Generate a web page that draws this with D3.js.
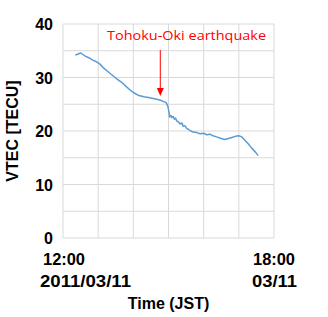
<!DOCTYPE html>
<html><head><meta charset="utf-8">
<script src="https://cdn.jsdelivr.net/npm/d3@7"></script>
<style>body{margin:0;background:#fff}svg{display:block}</style>
</head><body>
<svg id="c" width="328" height="317"></svg>
<script>
const times = ["12:21","12:26","12:30","12:34","12:38","12:44","12:50","12:56","13:03","13:10","13:20","13:30","13:40","13:48","13:54","14:00","14:08","14:18","14:28","14:38","14:45","14:52","14:56","14:59","15:01","15:02","15:04","15:06","15:08","15:10","15:12","15:14","15:17","15:20","15:23","15:25","15:28","15:31","15:34","15:38","15:42","15:48","15:54","16:00","16:05","16:11","16:16","16:22","16:30","16:36","16:42","16:48","16:54","17:00","17:05","17:10","17:16","17:22","17:28","17:33"];
const vtec  = [34.2,34.4,34.6,34.3,34.0,33.7,33.3,33.0,32.5,31.7,30.8,29.9,29.1,28.3,27.7,27.2,26.7,26.4,26.2,26.0,25.8,25.5,25.3,24.6,23.4,22.6,22.9,22.5,22.7,22.2,22.4,21.9,21.7,21.3,21.5,20.9,21.0,20.5,20.3,20.0,19.8,19.7,19.5,19.6,19.3,19.4,19.1,18.9,18.6,18.4,18.6,18.8,19.0,19.1,18.9,18.3,17.6,16.8,16.1,15.4];
const yTicks = [0,10,20,30,40];
const xLabels = [["12:00","2011/03/11"],["18:00","03/11"]];
const eventTime = "14:46";
const eventLabel = "Tohoku-Oki earthquake";

const svg = d3.select("#c");
const L=63,R=274,T=24,B=238;
const FONT="Liberation Sans, Arial, sans-serif";
const day = s => { const [h,m]=s.split(":").map(Number); return new Date(2011,2,11,h,m); };
const x = d3.scaleTime().domain([day("12:00"),day("18:00")]).range([L,R]);
const y = d3.scaleLinear().domain([0,40]).range([B,T]);

const g = svg.append("g");
g.selectAll(".hg").data(d3.range(0,41,5)).join("line")
  .attr("x1",L).attr("x2",R).attr("y1",d=>y(d)).attr("y2",d=>y(d))
  .attr("stroke","#d9d9d9").attr("stroke-width",1);
g.selectAll(".vg").data(d3.timeHour.range(day("12:00"),d3.timeHour.offset(day("18:00"),1))).join("line")
  .attr("x1",d=>x(d)).attr("x2",d=>x(d)).attr("y1",T).attr("y2",B)
  .attr("stroke","#d9d9d9").attr("stroke-width",1);

svg.selectAll(".yt").data(yTicks).join("text")
  .attr("x",53).attr("y",d=>y(d)+6).attr("text-anchor","end")
  .attr("font-family",FONT).attr("font-weight","bold").attr("font-size",16)
  .text(d=>d);

svg.append("text").attr("transform",`translate(18,${(T+B)/2}) rotate(-90)`)
  .attr("text-anchor","middle")
  .attr("font-family",FONT).attr("font-weight","bold").attr("font-size",16)
  .text("VTEC [TECU]");

// x labels (two lines each)
const xl = [
  {t:day("12:00"), pos:[{x:43,w:42},{x:40,w:91}]},
  {t:day("18:00"), pos:[{x:253,w:42},{x:252,w:45}]}
];
xLabels.forEach((lab,i)=>{
  lab.forEach((s,j)=>{
    const p = xl[i].pos[j];
    svg.append("text").attr("x",p.x).attr("y",265+j*22)
      .attr("text-anchor","start")
      .attr("textLength",p.w).attr("lengthAdjust","spacingAndGlyphs")
      .attr("font-family",FONT).attr("font-weight","bold").attr("font-size",16)
      .text(s);
  });
});
svg.append("text").attr("x",168.5).attr("y",309).attr("text-anchor","middle")
  .attr("font-family",FONT).attr("font-weight","bold").attr("font-size",16)
  .text("Time (JST)");

const data = times.map((t,i)=>({t:day(t),v:vtec[i]}));
svg.append("path").datum(data)
  .attr("d",d3.line().x(d=>x(d.t)).y(d=>y(d.v)))
  .attr("fill","none").attr("stroke","#5b9bd5").attr("stroke-width",1.5).attr("stroke-linejoin","round");

const ex = x(day(eventTime));
svg.append("text").attr("x",107).attr("y",40).attr("text-anchor","start")
  .attr("textLength",159).attr("lengthAdjust","spacingAndGlyphs")
  .attr("font-family","Open Sans, sans-serif").attr("font-size",13).attr("fill","#ff0000")
  .text(eventLabel);
svg.append("line").attr("x1",ex).attr("x2",ex).attr("y1",50).attr("y2",89)
  .attr("stroke","#ff0000").attr("stroke-width",1);
svg.append("path").attr("d",`M${ex-3.5},88 L${ex+3.5},88 L${ex},96 Z`).attr("fill","#ff0000");
</script>
</body></html>
